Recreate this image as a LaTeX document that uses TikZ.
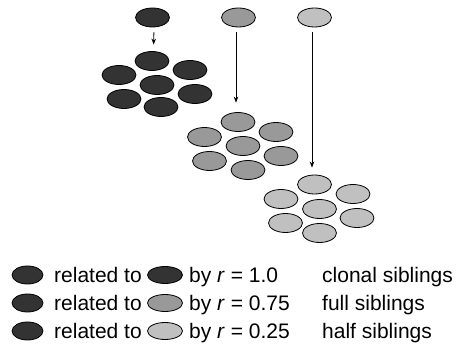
\documentclass[tikz,border=0pt]{standalone}
\usepackage{fontspec}
\setmainfont{Liberation Sans}
\usetikzlibrary{shapes.geometric,arrows.meta}
\definecolor{cdark}{HTML}{333333}
\definecolor{cmid}{HTML}{999999}
\definecolor{clight}{HTML}{C0C0C0}
\begin{document}
\begin{tikzpicture}[x=1pt,y=-1pt,
  cell/.style={ellipse,draw=black,line width=0.8pt,minimum width=34pt,minimum height=19pt,inner sep=0pt},
  lcella/.style={ellipse,draw=black,line width=0.8pt,minimum width=31pt,minimum height=18pt,inner sep=0pt},
  lcellb/.style={ellipse,draw=black,line width=0.8pt,minimum width=35pt,minimum height=17pt,inner sep=0pt},
  dk/.style={fill=cdark},
  md/.style={fill=cmid},
  lt/.style={fill=clight},
  arr/.style={line width=0.8pt,-{Stealth[length=6pt,width=4.5pt]}},
  lab/.style={anchor=base west,inner sep=0pt,font=\fontsize{21}{25}\selectfont}]
\useasboundingbox (0,0) rectangle (466,352);
% parents
\node[cell,dk] (d0) at (152.5,17.5) {};
\node[cell,md] (m0) at (238.5,17.5) {};
\node[cell,lt] (l0) at (314.5,17.5) {};
% dark cluster
\node[cell,dk] (d1) at (152,61) {};
\node[cell,dk] (d2) at (119,75) {};
\node[cell,dk] (d3) at (190,70) {};
\node[cell,dk] (d4) at (157,85) {};
\node[cell,dk] (d5) at (124,99) {};
\node[cell,dk] (d6) at (195,94) {};
\node[cell,dk] (d7) at (161,107) {};
% medium cluster
\node[cell,md] (m1) at (238,122) {};
\node[cell,md] (m2) at (204.5,137) {};
\node[cell,md] (m3) at (276,132) {};
\node[cell,md] (m4) at (243,146) {};
\node[cell,md] (m5) at (209.5,161) {};
\node[cell,md] (m6) at (281,156) {};
\node[cell,md] (m7) at (248,170) {};
% light cluster
\node[cell,lt] (l1) at (314.5,184.5) {};
\node[cell,lt] (l2) at (281,199) {};
\node[cell,lt] (l3) at (353,194) {};
\node[cell,lt] (l4) at (319.5,209) {};
\node[cell,lt] (l5) at (285.5,223) {};
\node[cell,lt] (l6) at (357,218) {};
\node[cell,lt] (l7) at (319.5,233) {};
% arrows
\draw[arr,shorten <=5pt,shorten >=6.5pt] ([xshift=1.5pt]d0.south) -- ([xshift=1.5pt]d1.north);
\draw[arr,shorten <=5pt,shorten >=9.5pt] ([xshift=-2.5pt]m0.south) -- ([xshift=-2pt]m1.north);
\draw[arr,shorten <=5pt,shorten >=7pt] ([xshift=-2.5pt]l0.south) -- ([xshift=-2.5pt]l1.north);
% legend
\node[lcella,dk] (ka1) at (27.5,275) {};
\node[lab] (kt1) at (54,282.5) {related to};
\node[lcellb,dk] (kb1) at (165,275) {};
\node[lab] (kr1) at (189,282.5) {by \textit{r} = 1.0};
\node[lab] (kn1) at (322,282.5) {clonal siblings};
\node[lcella,dk] (ka2) at (27.5,303) {};
\node[lab] (kt2) at (54,310.5) {related to};
\node[lcellb,md] (kb2) at (165,303) {};
\node[lab] (kr2) at (189,310.5) {by \textit{r} = 0.75};
\node[lab] (kn2) at (322,310.5) {full siblings};
\node[lcella,dk] (ka3) at (27.5,331) {};
\node[lab] (kt3) at (54,338.5) {related to};
\node[lcellb,lt] (kb3) at (165,331) {};
\node[lab] (kr3) at (189,338.5) {by \textit{r} = 0.25};
\node[lab] (kn3) at (322,338.5) {half siblings};
\end{tikzpicture}
\end{document}
